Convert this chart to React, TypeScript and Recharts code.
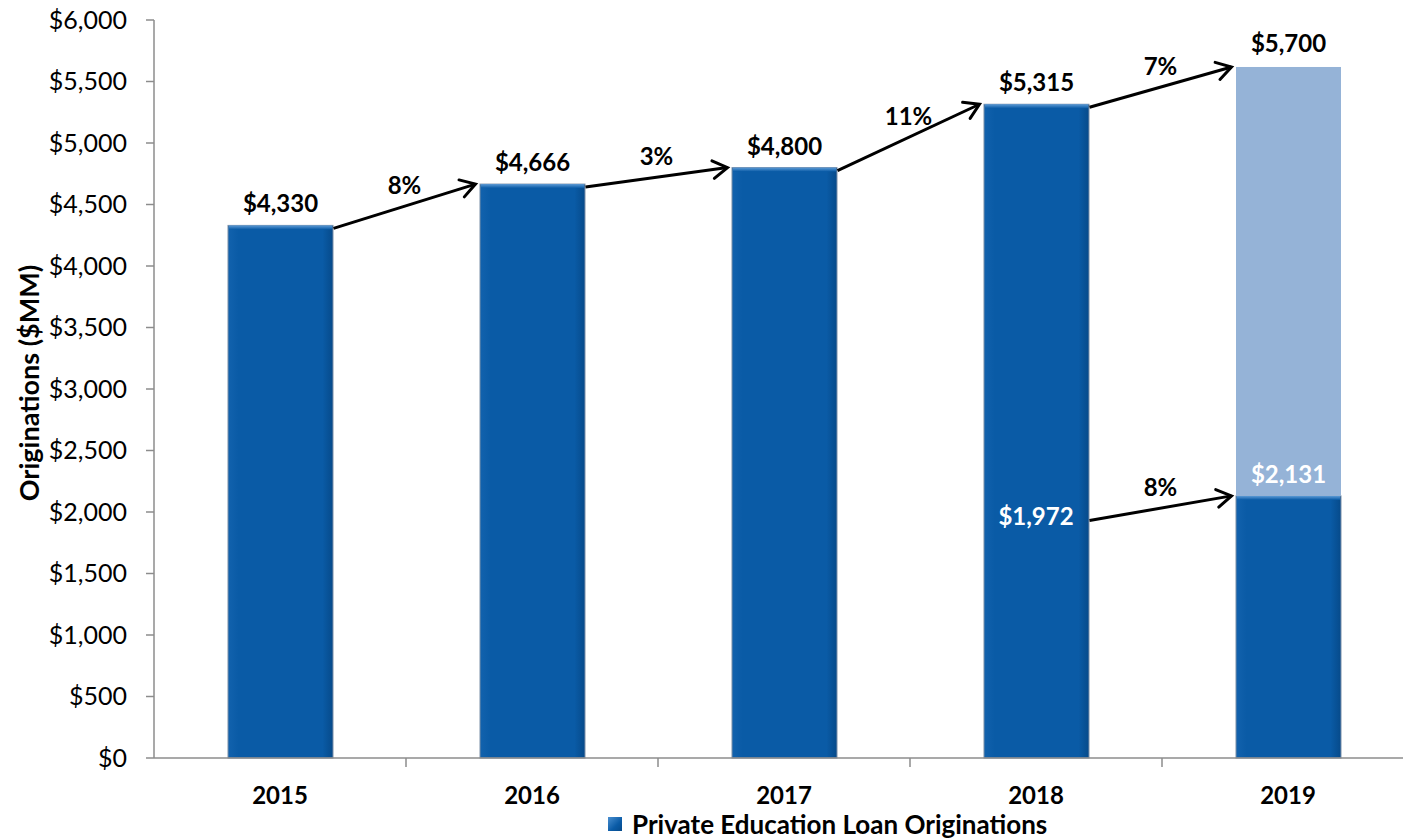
import { Bar, BarChart, LabelList, Legend, ReferenceLine, XAxis, YAxis } from "recharts";

const years = ["2015", "2016", "2017", "2018", "2019"];
const originations = [4330, 4666, 4800, 5315, 2131];
const remaining = [null, null, null, null, 3487];
const valueLabels = ["$4,330", "$4,666", "$4,800", "$5,315", "$2,131"];
const totalLabels = [null, null, null, null, "$5,700"];
const yearGrowth = ["8%", "3%", "11%", "7%"];
const priorYtd = 1972;
const priorYtdLabel = "$1,972";
const ytdGrowth = "8%";
const yTicks = [0, 500, 1000, 1500, 2000, 2500, 3000, 3500, 4000, 4500, 5000, 5500, 6000];

const FONT = "Lato, 'Open Sans', sans-serif";
const BAR_SIZE = 105;
const HALF_BAR = BAR_SIZE / 2;
const BAND = 252;
const DARK = "#0A5BA6";
const LIGHT = "#95B3D7";

const data = years.map((year, i) => ({
    year,
    originations: originations[i],
    remaining: remaining[i],
}));

const totals = data.map((d) => d.originations + (d.remaining ?? 0));

const arrows = [
    ...yearGrowth.map((pct, i) => ({
        from: years[i],
        to: years[i + 1],
        y1: totals[i],
        y2: totals[i + 1],
        pct,
        startLabel: null as string | null,
    })),
    { from: "2018", to: "2019", y1: priorYtd, y2: originations[4], pct: ytdGrowth, startLabel: priorYtdLabel },
];

function DarkBar(props: any) {
    const { x, y, width, height } = props;
    if (!height || height <= 0) return null;
    return (
        <g>
            <rect x={x} y={y} width={width} height={height} fill="url(#darkGrad)" stroke="#7a8fa8" strokeWidth={1} />
            <rect x={x + 1} y={y} width={width - 2} height={4} fill="url(#topGrad)" />
        </g>
    );
}

function LightBar(props: any) {
    const { x, y, width, height } = props;
    if (!height || height <= 0) return null;
    return <rect x={x} y={y} width={width} height={height} fill={LIGHT} />;
}

function BaseLabel(props: any) {
    const { x, y, width, index } = props;
    const last = index === years.length - 1;
    return (
        <text
            x={x + width / 2}
            y={y - 13}
            textAnchor="middle"
            fontFamily={FONT}
            fontWeight="bold"
            fontSize={24}
            fill={last ? "#fff" : "#000"}
        >
            {valueLabels[index]}
        </text>
    );
}

function TotalLabel(props: any) {
    const { x, y, width, index } = props;
    if (!totalLabels[index]) return null;
    return (
        <text x={x + width / 2} y={y - 15} textAnchor="middle" fontFamily={FONT} fontWeight="bold" fontSize={24} fill="#000">
            {totalLabels[index]}
        </text>
    );
}

function GrowthArrow(props: any) {
    const { x1, y1, x2, y2, pct, startLabel } = props;
    const sx = x1 + HALF_BAR + 1;
    const sy = y1 + (startLabel ? 5 : 3);
    const ex = x2 - HALF_BAR - 4;
    const ey = y2;
    const ang = Math.atan2(ey - sy, ex - sx);
    const head = 17;
    const spread = 0.55;
    const hx1 = ex - head * Math.cos(ang - spread);
    const hy1 = ey - head * Math.sin(ang - spread);
    const hx2 = ex - head * Math.cos(ang + spread);
    const hy2 = ey - head * Math.sin(ang + spread);
    return (
        <g>
            <line x1={sx} y1={sy} x2={ex} y2={ey} stroke="#000" strokeWidth={3} />
            <polyline
                points={`${hx1},${hy1} ${ex},${ey} ${hx2},${hy2}`}
                fill="none"
                stroke="#000"
                strokeWidth={3}
                strokeLinecap="round"
            />
            <text x={(sx + ex) / 2} y={(sy + ey) / 2 - 12} textAnchor="middle" fontFamily={FONT} fontWeight="bold" fontSize={24}>
                {pct}
            </text>
            {startLabel && (
                <text x={x1} y={y1 + 10} textAnchor="middle" fontFamily={FONT} fontWeight="bold" fontSize={24} fill="#fff">
                    {startLabel}
                </text>
            )}
        </g>
    );
}

function YearTick(props: any) {
    const { x, y, payload } = props;
    return (
        <g>
            <line x1={x + BAND / 2} x2={x + BAND / 2} y1={y - 29} y2={y - 20} stroke="#8c8c8c" strokeWidth={1.5} />
            <text x={x} y={y} dy="0.71em" textAnchor="middle" fontFamily={FONT} fontWeight="bold" fontSize={24} fill="#000">
                {payload.value}
            </text>
        </g>
    );
}

function YTitle(props: any) {
    const { viewBox } = props;
    const cx = viewBox.x + 28;
    const cy = viewBox.y + viewBox.height / 2 - 6;
    return (
        <text
            x={cx}
            y={cy}
            transform={`rotate(-90, ${cx}, ${cy})`}
            textAnchor="middle"
            dominantBaseline="central"
            fontFamily={FONT}
            fontWeight="bold"
            fontSize={27}
            fill="#000"
        >
            Originations ($MM)
        </text>
    );
}

function LegendContent() {
    return (
        <div
            style={{
                display: "flex",
                alignItems: "center",
                fontFamily: FONT,
                fontWeight: "bold",
                fontSize: 26,
                lineHeight: "26px",
                color: "#000",
                whiteSpace: "nowrap",
            }}
        >
            <span
                style={{
                    display: "inline-block",
                    width: 14,
                    height: 14,
                    marginRight: 10,
                    background: "linear-gradient(135deg, #4a8fd0, #0A5BA6 60%, #064a8a)",
                }}
            />
            Private Education Loan Originations
        </div>
    );
}

export default function App() {
    return (
        <div style={{ position: "absolute", left: 0, top: 0, width: 1403, height: 839, overflow: "hidden", background: "#fff" }}>
            <BarChart width={1414} height={839} data={data} margin={{ top: 20, right: 0, left: 0, bottom: 21 }}>
                <defs>
                    <linearGradient id="darkGrad" x1="0" y1="0" x2="1" y2="0">
                        <stop offset="0%" stopColor="#1262ad" />
                        <stop offset="10%" stopColor={DARK} />
                        <stop offset="90%" stopColor={DARK} />
                        <stop offset="100%" stopColor="#064a8a" />
                    </linearGradient>
                    <linearGradient id="topGrad" x1="0" y1="0" x2="0" y2="1">
                        <stop offset="0%" stopColor="#5d9bd6" />
                        <stop offset="100%" stopColor={DARK} />
                    </linearGradient>
                </defs>
                <XAxis
                    dataKey="year"
                    height={60}
                    axisLine={{ stroke: "#8c8c8c", strokeWidth: 1.5 }}
                    tickLine={false}
                    tickSize={9}
                    tickMargin={20}
                    tick={<YearTick />}
                    interval={0}
                />
                <YAxis
                    width={154}
                    domain={[0, 6000]}
                    ticks={yTicks}
                    interval={0}
                    tickFormatter={(v: number) => `$${v.toLocaleString("en-US")}`}
                    axisLine={{ stroke: "#8c8c8c", strokeWidth: 1.5 }}
                    tickLine={{ stroke: "#8c8c8c", strokeWidth: 1.5 }}
                    tickSize={8}
                    tickMargin={19}
                    tick={{ fontFamily: FONT, fontSize: 25, fill: "#000" }}
                    label={<YTitle />}
                />
                <Legend verticalAlign="middle" align="center" wrapperStyle={{ top: 811, left: 608, width: "auto" }} content={<LegendContent />} />
                <Bar
                    dataKey="originations"
                    name="Private Education Loan Originations"
                    stackId="a"
                    barSize={BAR_SIZE}
                    fill={DARK}
                    shape={<DarkBar />}
                    isAnimationActive={false}
                >
                    <LabelList dataKey="originations" content={<BaseLabel />} />
                </Bar>
                <Bar
                    dataKey="remaining"
                    stackId="a"
                    barSize={BAR_SIZE}
                    fill={LIGHT}
                    legendType="none"
                    shape={<LightBar />}
                    isAnimationActive={false}
                >
                    <LabelList dataKey="remaining" content={<TotalLabel />} />
                </Bar>
                {arrows.map((a, i) => (
                    <ReferenceLine
                        key={`arrow-${i}`}
                        segment={[
                            { x: a.from, y: a.y1 },
                            { x: a.to, y: a.y2 },
                        ]}
                        ifOverflow="visible"
                        shape={(p: any) => <GrowthArrow {...p} pct={a.pct} startLabel={a.startLabel} />}
                    />
                ))}
            </BarChart>
        </div>
    );
}
